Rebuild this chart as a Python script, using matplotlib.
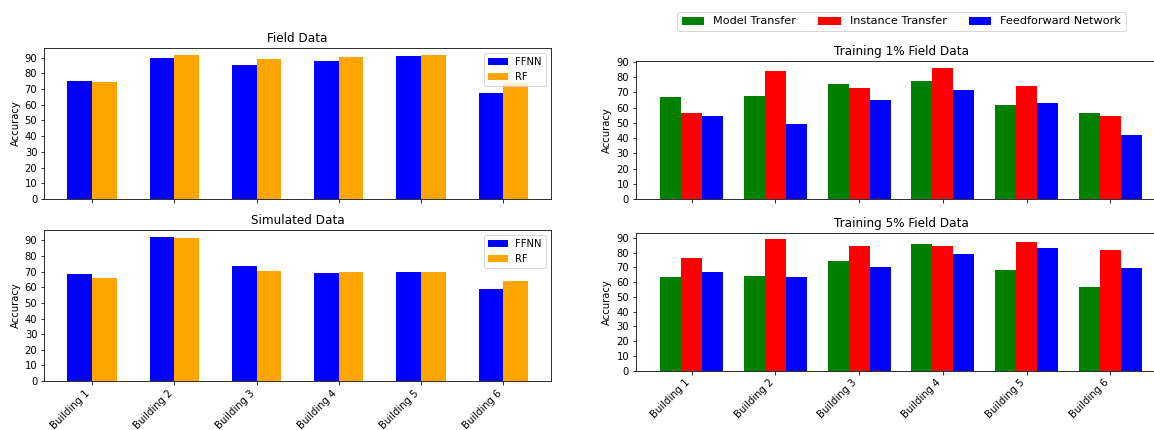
import numpy as np
import matplotlib
matplotlib.use("Agg")
import matplotlib.pyplot as plt

buildings = ["Building 1", "Building 2", "Building 3", "Building 4", "Building 5", "Building 6"]

# FFNN vs RF accuracy
field_ffnn = [75.1, 90.0, 85.5, 87.9, 90.9, 67.6]
field_rf = [74.4, 91.7, 88.9, 90.6, 91.7, 74.0]
sim_ffnn = [68.5, 92.1, 73.6, 69.1, 69.7, 58.6]
sim_rf = [65.7, 91.5, 70.6, 69.7, 69.7, 63.8]

# transfer learning accuracy
t1_model = [67.1, 67.6, 75.2, 77.6, 61.5, 56.4]
t1_instance = [56.4, 84.3, 72.6, 86.3, 73.9, 54.3]
t1_ffnn = [54.3, 49.0, 64.7, 71.5, 62.8, 41.8]
t5_model = [63.7, 63.9, 74.3, 86.0, 68.6, 56.5]
t5_instance = [76.3, 89.1, 84.6, 84.6, 87.1, 82.1]
t5_ffnn = [66.6, 63.7, 70.0, 78.8, 83.5, 69.3]

DPI = 72
W, H = 1154, 430

fig = plt.figure(figsize=(W / DPI, H / DPI), dpi=DPI)

def add_ax(x0, y0, x1, y1):
    # place axes from pixel box (top-left origin)
    return fig.add_axes([x0 / W, 1 - y1 / H, (x1 - x0) / W, (y1 - y0) / H])

x = np.arange(len(buildings))

# left column: FFNN vs RF
ax1 = add_ax(44.3, 47.7, 551, 199)
ax2 = add_ax(44.3, 230, 551, 381)
for ax, ffnn, rf, title in [(ax1, field_ffnn, field_rf, "Field Data"),
                             (ax2, sim_ffnn, sim_rf, "Simulated Data")]:
    w = 0.3
    ax.bar(x - w / 2, ffnn, w, color='blue', label='FFNN')
    ax.bar(x + w / 2, rf, w, color='orange', label='RF')
    ax.set_title(title)
    ax.set_ylabel('Accuracy')
    ax.set_yticks(range(0, 100, 10))
    ax.set_xticks(x)
    ax.legend(loc='upper right')
ax1.set_xticklabels([])
ax2.set_xticklabels(buildings, rotation=45, ha='right')

# right column: transfer methods
ax3 = add_ax(636, 61, 1166, 199)
ax4 = add_ax(636, 232.7, 1166, 370.7)
for ax, m, i, f, title in [(ax3, t1_model, t1_instance, t1_ffnn, "Training 1% Field Data"),
                           (ax4, t5_model, t5_instance, t5_ffnn, "Training 5% Field Data")]:
    w = 0.25
    ax.bar(x - w, m, w, color='green', label='Model Transfer')
    ax.bar(x, i, w, color='red', label='Instance Transfer')
    ax.bar(x + w, f, w, color='blue', label='Feedforward Network')
    ax.set_title(title)
    ax.set_ylabel('Accuracy')
    ax.set_yticks(range(0, 100, 10))
    ax.set_xticks(x)
ax3.set_xticklabels([])
ax4.set_xticklabels(buildings, rotation=45, ha='right')

handles, labels = ax3.get_legend_handles_labels()
fig.legend(handles, labels, loc='center', ncol=3, fontsize=11.2,
           bbox_to_anchor=(901.5 / W, 1 - 21.5 / H))

fig.savefig('out.png', dpi=DPI)
